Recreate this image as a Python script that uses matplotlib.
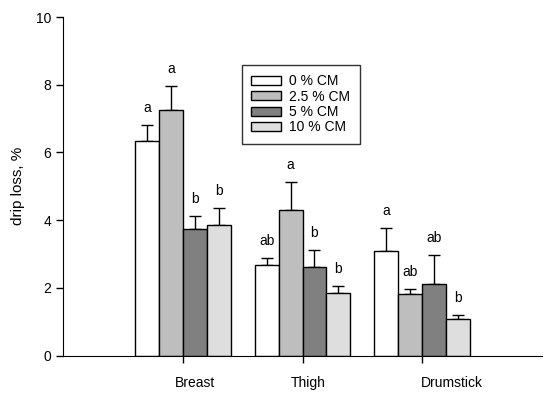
import numpy as np
import matplotlib
matplotlib.use("Agg")
import matplotlib.pyplot as plt

plt.rcParams['font.family'] = ['Liberation Sans', 'DejaVu Sans']

# drip loss, % (mean and upper error)
cuts = ["Breast", "Thigh", "Drumstick"]
groups = ["0 % CM", "2.5 % CM", "5 % CM", "10 % CM"]
means = [
    [6.35, 2.67, 3.09],
    [7.25, 4.29, 1.81],
    [3.74, 2.62, 2.12],
    [3.87, 1.86, 1.08],
]
errs = [
    [0.46, 0.22, 0.67],
    [0.71, 0.84, 0.17],
    [0.38, 0.50, 0.85],
    [0.48, 0.20, 0.12],
]
letters = [
    ["a", "ab", "a"],
    ["a", "a", "ab"],
    ["b", "b", "ab"],
    ["b", "b", "b"],
]
colors = ["white", "#bebebe", "#808080", "#dedede"]

fig = plt.figure(figsize=(5.5, 3.99), dpi=100)
ax = fig.add_axes([0.1145, 0.109, 0.871, 0.848])

x = np.arange(1, len(cuts) + 1)
w = 0.2
for i in range(4):
    pos = x + (i - 1.5) * w
    ax.bar(pos, means[i], width=w, color=colors[i], edgecolor="black",
           linewidth=1.0, label=groups[i], zorder=2)
    ax.errorbar(pos, means[i], yerr=[np.zeros(3), errs[i]], fmt="none",
                ecolor="black", elinewidth=1.0, capsize=4, capthick=1.0, zorder=1)
    for p, m, e, t in zip(pos, means[i], errs[i], letters[i]):
        ax.text(p, m + e + 0.5, t, ha="center", va="center", fontsize=10)

ax.set_xlim(0, 4)
ax.set_ylim(0, 10)
ax.set_yticks([0, 2, 4, 6, 8, 10])
ax.set_xticks(x)
ax.set_xticklabels([])
for xp, name in zip([1.1, 2.05, 3.25], cuts):
    ax.text(xp, -0.8, name, ha="center", va="center", fontsize=10, clip_on=False)

ax.spines["top"].set_visible(False)
ax.spines["right"].set_visible(False)
ax.tick_params(direction="out", length=5, width=1, labelsize=10)
ax.set_ylabel("drip loss, %", fontsize=11, labelpad=8)

leg = ax.legend(loc="upper left", bbox_to_anchor=(0.373, 0.86), fontsize=10,
                frameon=True, fancybox=False, edgecolor="black",
                handlelength=2.16, handleheight=0.6, handletextpad=0.58,
                labelspacing=0.1, borderpad=0.7, borderaxespad=0)
leg.get_frame().set_linewidth(1.0)

fig.savefig("out.png", dpi=100)
